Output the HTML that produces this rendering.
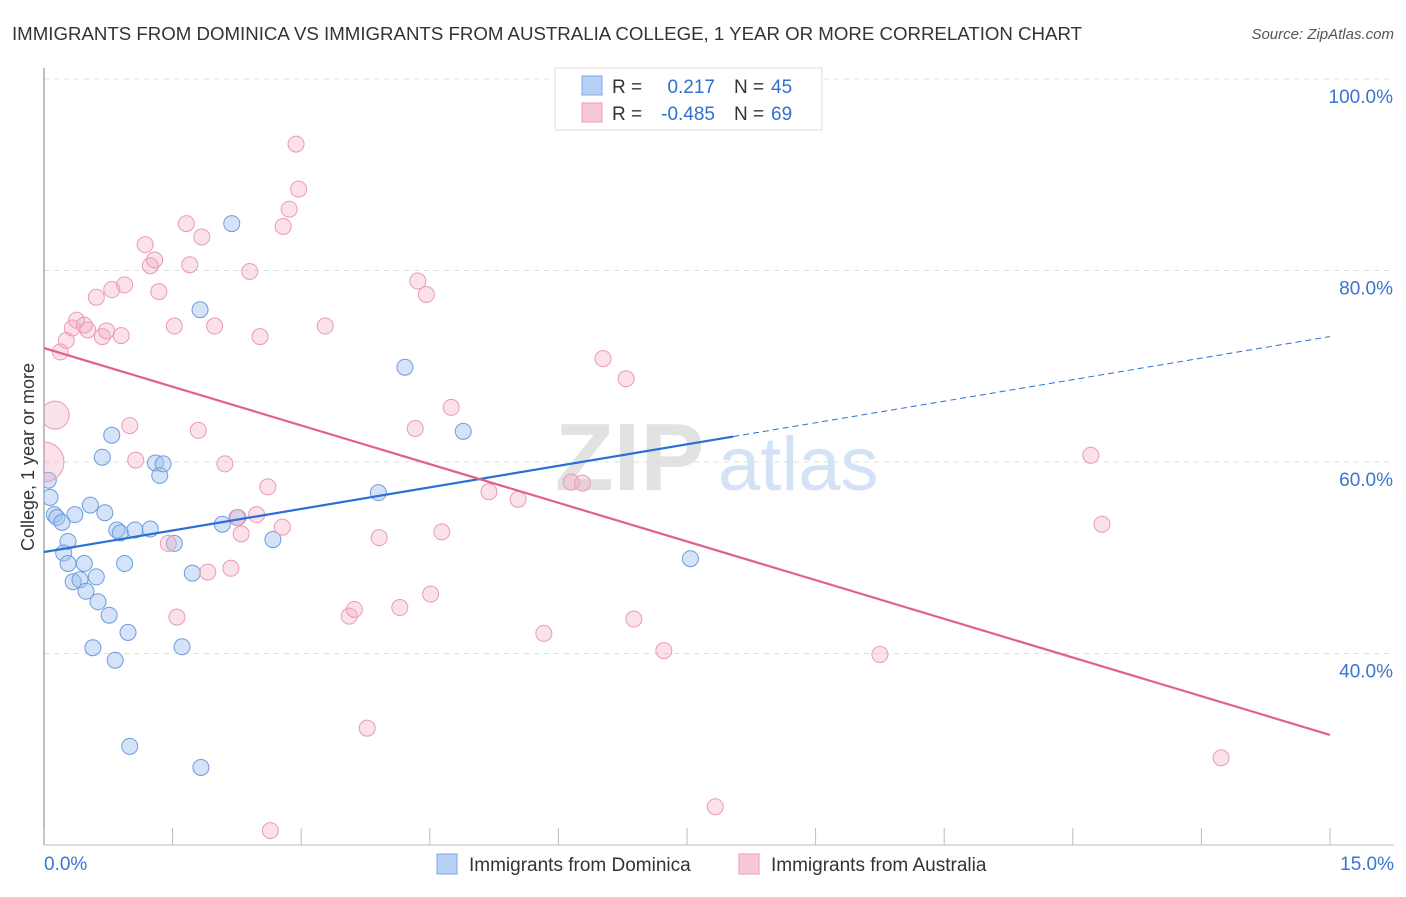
<!DOCTYPE html>
<html><head><meta charset="utf-8"><style>
body{margin:0;background:#fff;font-family:"Liberation Sans",sans-serif;}
svg text{font-family:"Liberation Sans",sans-serif;}
</style></head><body>
<svg id="chart" width="1406" height="892">
<defs><clipPath id="plotclip"><rect x="44" y="60" width="1360" height="785"/></clipPath></defs>
<text x="12" y="40" font-size="18.7" fill="#333" textLength="1070" lengthAdjust="spacingAndGlyphs">IMMIGRANTS FROM DOMINICA VS IMMIGRANTS FROM AUSTRALIA COLLEGE, 1 YEAR OR MORE CORRELATION CHART</text>
<text x="1394" y="39" font-size="15" fill="#555" font-style="italic" text-anchor="end">Source: ZipAtlas.com</text>
<g><text x="555" y="490" font-size="96" fill="#e2e2e2" font-family="Liberation Serif,serif" font-weight="bold">ZIP</text><text x="718" y="490" font-size="76" fill="#d3e2f5">atlas</text></g>
<g id="grid"></g><g id="axes"></g><g id="marks" clip-path="url(#plotclip)"></g>
<text transform="translate(34,457) rotate(-90)" font-size="18" fill="#333" text-anchor="middle">College, 1 year or more</text>
<g>
<rect x="555" y="68" width="267" height="62" fill="#fff" stroke="#ddd"/>
<rect x="582" y="76" width="20" height="19" fill="#b8d0f5" stroke="#7fa8e8"/>
<rect x="582" y="103" width="20" height="19" fill="#f9c8d8" stroke="#ee9ab6"/>
<text x="612" y="93" font-size="19" fill="#333">R =</text><text x="715" y="93" font-size="19" fill="#2f6fd0" text-anchor="end">0.217</text>
<text x="734" y="93" font-size="19" fill="#333">N =</text><text x="771" y="93" font-size="19" fill="#2f6fd0">45</text>
<text x="612" y="120" font-size="19" fill="#333">R =</text><text x="715" y="120" font-size="19" fill="#2f6fd0" text-anchor="end">-0.485</text>
<text x="734" y="120" font-size="19" fill="#333">N =</text><text x="771" y="120" font-size="19" fill="#2f6fd0">69</text>
</g>
<g>
<rect x="437" y="854" width="20" height="20" fill="#b8d0f5" stroke="#7fa8e8"/>
<text x="469" y="871" font-size="19" fill="#333">Immigrants from Dominica</text>
<rect x="739" y="854" width="20" height="20" fill="#f9c8d8" stroke="#ee9ab6"/>
<text x="771" y="871" font-size="19" fill="#333">Immigrants from Australia</text>
</g>
</svg>
<script>
const blueX=[0.05,0.07,0.12,0.15,0.21,0.28,0.23,0.28,0.36,0.34,0.42,0.47,0.49,0.54,0.61,0.63,0.57,0.68,0.71,0.76,0.79,0.83,0.85,0.89,0.94,0.98,1.00,1.06,1.24,1.30,1.35,1.39,1.52,1.61,1.73,1.82,1.83,2.08,2.19,2.26,2.67,3.90,4.21,4.89,7.54];
const blueY=[58.1,56.3,54.5,54.2,53.7,51.7,50.5,49.4,54.5,47.5,47.7,49.4,46.5,55.5,48.0,45.4,40.6,60.5,54.7,44.0,62.8,39.3,52.9,52.6,49.4,42.2,30.3,52.9,53.0,59.9,58.6,59.8,51.5,40.7,48.4,75.9,28.1,53.5,84.9,54.2,51.9,56.8,69.9,63.2,49.9];
const pinkX=[0.0,0.13,0.19,0.26,0.33,0.38,0.47,0.51,0.61,0.68,0.73,0.79,0.90,0.94,1.00,1.07,1.18,1.24,1.29,1.34,1.45,1.52,1.55,1.66,1.70,1.80,1.84,1.91,1.99,2.11,2.18,2.25,2.30,2.40,2.48,2.52,2.61,2.64,2.78,2.79,2.86,2.94,2.97,3.28,3.56,3.62,3.77,3.91,4.15,4.33,4.36,4.46,4.51,4.64,4.75,5.19,5.53,5.83,6.15,6.28,6.52,6.79,6.88,7.23,7.83,9.75,12.21,12.34,13.73];
const pinkY=[60.0,64.9,71.5,72.7,74.0,74.8,74.3,73.8,77.2,73.1,73.7,78.0,73.2,78.5,63.8,60.2,82.7,80.5,81.1,77.8,51.5,74.2,43.8,84.9,80.6,63.3,83.5,48.5,74.2,59.8,48.9,54.2,52.5,79.9,54.5,73.1,57.4,21.5,53.2,84.6,86.4,93.2,88.5,74.2,43.9,44.6,32.2,52.1,44.8,63.5,78.9,77.5,46.2,52.7,65.7,56.9,56.1,42.1,57.9,57.8,70.8,68.7,43.6,40.3,24.0,39.9,60.7,53.5,29.1];
const pinkSize=[20,14];
const yTicks=[40,60,80,100];
const yTickLabels=["40.0%","60.0%","80.0%","100.0%"];
const blueFit=[50.6,73.1]; const blueSolidEnd=8.04;
const pinkFit=[71.9,31.5];
const X=v=>44+v/15*1286, Y=v=>79+(100-v)*9.575;
const NS="http://www.w3.org/2000/svg";
function mk(tag,attrs,parent){const e=document.createElementNS(NS,tag);for(const k in attrs)e.setAttribute(k,attrs[k]);document.getElementById(parent).appendChild(e);return e;}
yTicks.forEach((t,i)=>{
 const g=mk('line',{x1:44,x2:1394,y1:Y(t),y2:Y(t),stroke:'#ddd','stroke-dasharray':'5,5'},'grid');
 
 
 const l=mk('text',{x:1393,y:Y(t)+24,'font-size':19,fill:'#3b74d0','text-anchor':'end'},'grid');l.textContent=yTickLabels[i];
 
 
});
mk('line',{x1:44,x2:44,y1:68,y2:845,stroke:'#aaa','stroke-width':1.5},'axes');
mk('line',{x1:44,x2:1394,y1:845,y2:845,stroke:'#bbb'},'axes');
for(let i=0;i<=10;i++){mk('line',{x1:X(i*1.5),x2:X(i*1.5),y1:828,y2:845,stroke:'#bbb'},'axes');}
let t0=mk('text',{x:44,y:870,'font-size':19,fill:'#3b74d0'},'axes');t0.textContent='0.0%';


let t1=mk('text',{x:1394,y:870,'font-size':19,fill:'#3b74d0','text-anchor':'end'},'axes');t1.textContent='15.0%';


blueX.forEach((x,i)=>{const c=mk('circle',{cx:X(x),cy:Y(blueY[i]),r:8,fill:'rgba(160,192,240,0.45)',stroke:'#6f9be0','stroke-width':1},'marks');
 
 });
pinkX.forEach((x,i)=>{const c=mk('circle',{cx:X(x),cy:Y(pinkY[i]),r:pinkSize[i]||8,fill:'rgba(244,170,195,0.35)',stroke:'#eb9ab5','stroke-width':1},'marks');
 
 });
const fb=x=>blueFit[0]+(blueFit[1]-blueFit[0])*x/15;
let bl=mk('line',{x1:X(0),y1:Y(fb(0)),x2:X(blueSolidEnd),y2:Y(fb(blueSolidEnd)),stroke:'#2b6fd6','stroke-width':2.2},'marks');


let bd=mk('line',{x1:X(blueSolidEnd),y1:Y(fb(blueSolidEnd)),x2:X(15),y2:Y(fb(15)),stroke:'#2b6fd6','stroke-width':1,'stroke-dasharray':'6,4'},'marks');


let pl=mk('line',{x1:X(0),y1:Y(pinkFit[0]),x2:X(15),y2:Y(pinkFit[1]),stroke:'#e0608f','stroke-width':2.2},'marks');


</script>
</body></html>
